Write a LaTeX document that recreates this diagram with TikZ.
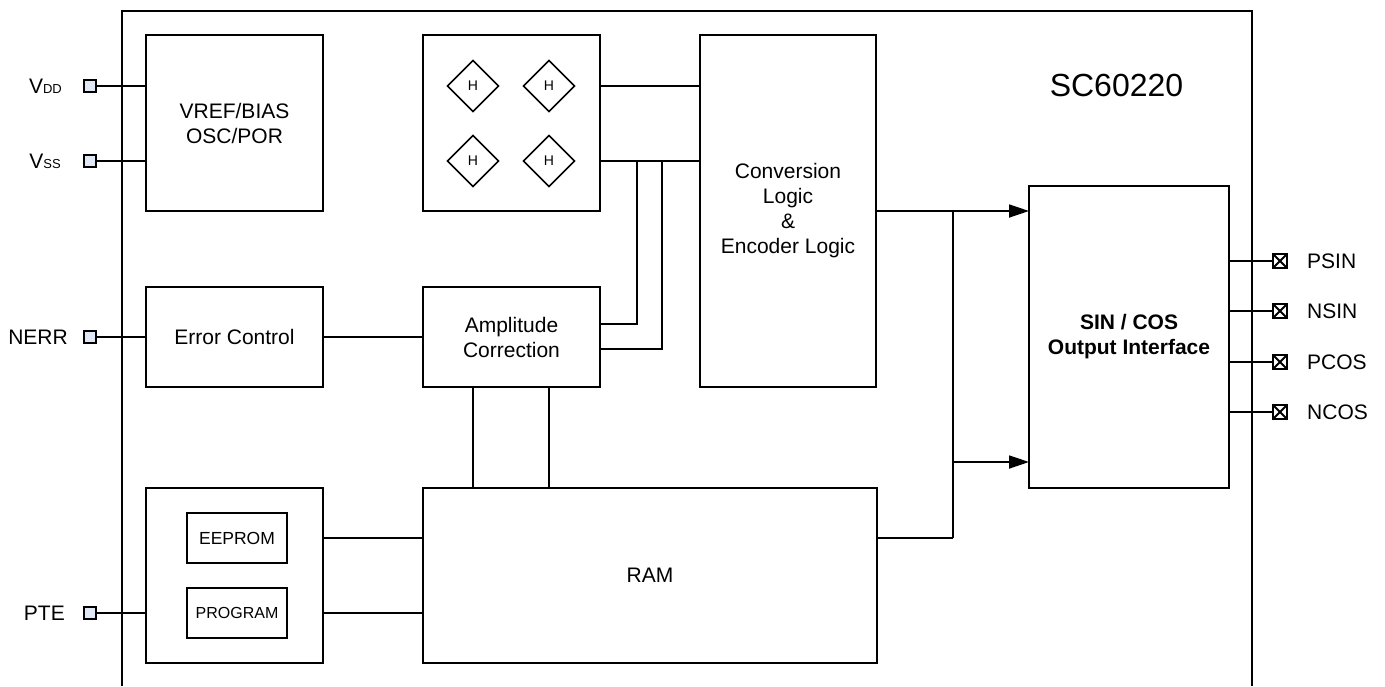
\documentclass[tikz,border=0pt]{standalone}
\usepackage{fontspec}
\setmainfont{Liberation Sans}
\usetikzlibrary{arrows.meta,positioning,calc,shapes.geometric}

\definecolor{pinfill}{RGB}{224,232,245}

\tikzset{
  txt/.style={font=\fontsize{21}{25}\selectfont, align=center, inner sep=0pt},
  block/.style={draw, line width=1.8pt, inner sep=0pt, outer sep=0pt, txt},
  pinin/.style={draw, line width=2pt, fill=pinfill, minimum size=12pt, inner sep=0pt, outer sep=0pt},
  pinout/.style={draw, line width=2.4pt, minimum size=14pt, inner sep=0pt, outer sep=0pt},
  hall/.style={draw, diamond, aspect=1, line width=1.6pt, minimum size=51pt, inner sep=0pt, outer sep=0pt, font=\fontsize{14}{16}\selectfont},
  wire/.style={line width=1.8pt},
  bus/.style={wire, -{Triangle[length=20pt,width=13pt]}}
}

\begin{document}
\begin{tikzpicture}[x=1pt, y=-1pt, line cap=butt, line join=miter]
\useasboundingbox (0,0) rectangle (1385,686);

\draw[wire] (122,686) -- (122,11) -- (1252,11) -- (1252,686);
\node[txt, font=\fontsize{32}{36}\selectfont] (chip) at (1116.5,85) {SC60220};

% blocks
\node[block, minimum width=177pt, minimum height=176pt] (vref) at (234.5,123) {VREF/BIAS\\OSC/POR};
\node[block, minimum width=177pt, minimum height=176pt] (sensor) at (511.5,123) {};
\node[block, minimum width=176pt, minimum height=352pt] (conv) at (788,211) {Conversion\\Logic\\\&\\Encoder Logic};
\node[block, minimum width=177pt, minimum height=100pt] (error) at (234.5,337) {Error Control};
\node[block, minimum width=177pt, minimum height=100pt] (ampl) at (511.5,337) {Amplitude\\Correction};
\node[block, minimum width=177pt, minimum height=175pt] (store) at (234.5,575.5) {};
\node[block, minimum width=454pt, minimum height=175pt] (ram) at (650,575.5) {RAM};
\node[block, minimum width=200pt, minimum height=302pt, font=\fontsize{21}{25}\selectfont\bfseries] (iface) at (1129,337) {SIN / COS\\Output Interface};
\node[block, minimum width=100pt, minimum height=50pt, font=\fontsize{17.5}{20}\selectfont] (eeprom) at (237,538) {EEPROM};
\node[block, minimum width=100pt, minimum height=50pt, font=\fontsize{16}{20}\selectfont] (program) at (237,613) {PROGRAM};

% hall sensors
\node[hall] (h1) at (473,86) {H};
\node[hall] (h2) at (549,86) {H};
\node[hall] (h3) at (473,161) {H};
\node[hall] (h4) at (549,161) {H};

% pins
\foreach \name/\x/\y/\label in {vdd/62/86/V{\fontsize{13}{13}\selectfont DD},vss/61/161/V{\fontsize{13}{13}\selectfont SS},nerr/68/337/NERR,pte/65/613/PTE}{
  \node[pinin] (\name) at (90,\y) {};
  \node[txt, anchor=east] (\name text) at (\x,\y) {\label};
  \draw[wire] (\name.east) -- ++(50,0);
}
\foreach \name/\y/\label in {psin/261/PSIN,nsin/311/NSIN,pcos/362/PCOS,ncos/412/NCOS}{
  \node[pinout] (\name) at (1280,\y) {};
  \draw[line width=1.8pt] (\name.north west) -- (\name.south east) (\name.north east) -- (\name.south west);
  \node[txt, anchor=west] (\name text) at (1307,\y) {\label};
  \draw[wire] (\name.west) -- (\name.west -| iface.east);
}

\draw[wire] (error.east) -- (ampl.west);

% sensor outputs
\draw[wire] (h2 -| sensor.east) -- (h2 -| conv.west);
\draw[wire] (h4 -| sensor.east) -- (h4 -| conv.west);
\coordinate (busa) at (637,161);
\coordinate (busb) at (662,161);
\draw[wire] (busa) |- (ampl.east |- 0,324);
\draw[wire] (busb) |- (ampl.east |- 0,349);

% ram links
\draw[wire] (ampl.south -| h1) -- (ram.north -| h1);
\draw[wire] (ampl.south -| h2) -- (ram.north -| h2);
\draw[wire] (eeprom -| store.east) -- (eeprom -| ram.west);
\draw[wire] (program -| store.east) -- (program -| ram.west);

% outputs
\coordinate (merge) at (953,538);
\draw[wire] (merge -| ram.east) -- (merge);
\draw[wire] (merge) -- (merge |- 0,211);
\draw[bus] (conv.east) -- (iface.west |- conv.east);
\draw[bus] (merge |- 0,462) -- (iface.west |- 0,462);
\end{tikzpicture}
\end{document}
